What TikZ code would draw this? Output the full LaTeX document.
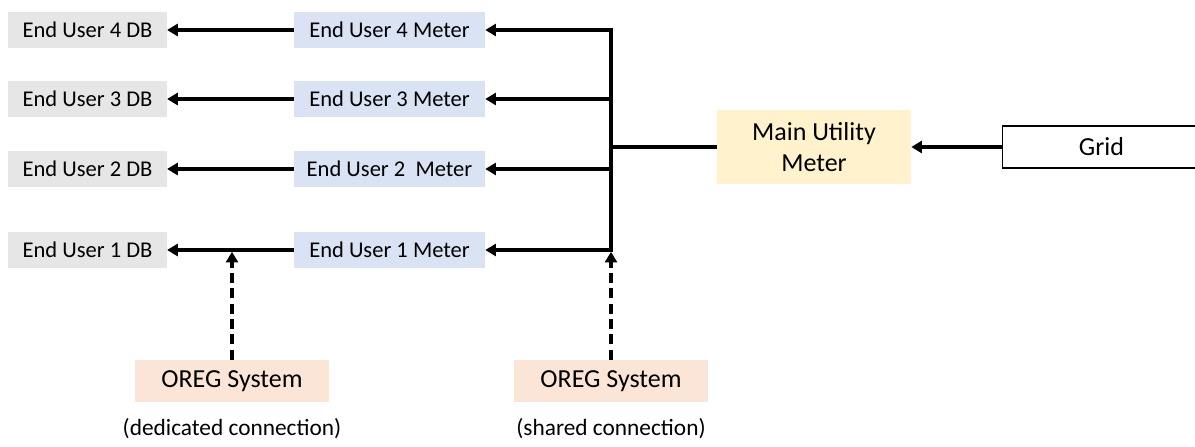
\documentclass[tikz,border=0pt]{standalone}
\usepackage{fontspec}
\setmainfont{Carlito}
\usetikzlibrary{arrows.meta}
\definecolor{dbgray}{HTML}{E7E6E6}
\definecolor{meterblue}{HTML}{DAE3F3}
\definecolor{mainyellow}{HTML}{FFF2CC}
\definecolor{oregpeach}{HTML}{FBE5D6}
\begin{document}
\begin{tikzpicture}[x=0.75pt,y=-0.75pt,
  box/.style={inner sep=0pt, anchor=center, align=center, font=\fontsize{16.9}{20}\selectfont},
  bigbox/.style={box, font=\fontsize{19.5}{23.5}\selectfont},
  dbbox/.style={box, fill=dbgray, minimum width=119pt, minimum height=27.5pt},
  meterbox/.style={box, fill=meterblue, minimum width=143.25pt, minimum height=27.5pt},
  mainbox/.style={bigbox, fill=mainyellow, minimum width=145.5pt, minimum height=55.5pt},
  gridbox/.style={bigbox, fill=white, draw=black, line width=0.9pt, minimum width=148pt, minimum height=31.5pt},
  oregbox/.style={bigbox, fill=oregpeach, minimum width=145pt, minimum height=31.5pt},
  note/.style={inner sep=0pt, anchor=center, font=\fontsize{17.5}{21}\selectfont},
  conn/.style={line width=2.7pt, -{Triangle[length=8pt,width=9pt]}},
  plain/.style={line width=2.7pt},
  dconn/.style={line width=2.7pt, dash pattern=on 7.5pt off 4pt, -{Triangle[length=8pt,width=9pt]}}
]
\useasboundingbox (0,0) rectangle (1195,446);

% DB boxes
\node[dbbox] (db4) at (87.5,30) {End User 4 DB};
\node[dbbox] (db3) at (87.5,99) {End User 3 DB};
\node[dbbox] (db2) at (87.5,169) {End User 2 DB};
\node[dbbox] (db1) at (87.5,250) {End User 1 DB};

% Meter boxes
\node[meterbox] (m4) at (389.5,30) {End User 4 Meter};
\node[meterbox] (m3) at (389.5,99) {End User 3 Meter};
\node[meterbox] (m2) at (389.5,169) {End User 2\ \ Meter};
\node[meterbox] (m1) at (389.5,250) {End User 1 Meter};

% Main and grid
\node[mainbox] (main) at (814,147) {Main Utility\\Meter};
\node[gridbox] (grid) at (1101.5,147) {Grid};

% OREG
\node[oregbox] (o1) at (232,381) {OREG System};
\node[oregbox] (o2) at (611,381) {OREG System};
\node[note] (n1) at (232,429) {(dedicated connection)};
\node[note] (n2) at (611,429) {(shared connection)};

% bus coordinates
\coordinate (b4) at (611,30);
\coordinate (b3) at (611,99);
\coordinate (b2) at (611,169);
\coordinate (b1) at (611,250);
\coordinate (bm) at (611,147);
\coordinate (t1) at (232,251.8);
\coordinate (t2) at (611,251.8);

% connectors
\draw[plain, line cap=rect] (b4) -- (b1);
\draw[conn] (b4) -- (m4.east);
\draw[conn] (b3) -- (m3.east);
\draw[conn] (b2) -- (m2.east);
\draw[conn] (b1) -- (m1.east);
\draw[plain] (main.west) -- (bm);
\draw[conn] (grid.west) -- (main.east);

\draw[conn] (m4.west) -- (db4.east);
\draw[conn] (m3.west) -- (db3.east);
\draw[conn] (m2.west) -- (db2.east);
\draw[conn] (m1.west) -- (db1.east);

\draw[dconn] (o1.north) -- (t1);
\draw[dconn] (o2.north) -- (t2);
\end{tikzpicture}
\end{document}
